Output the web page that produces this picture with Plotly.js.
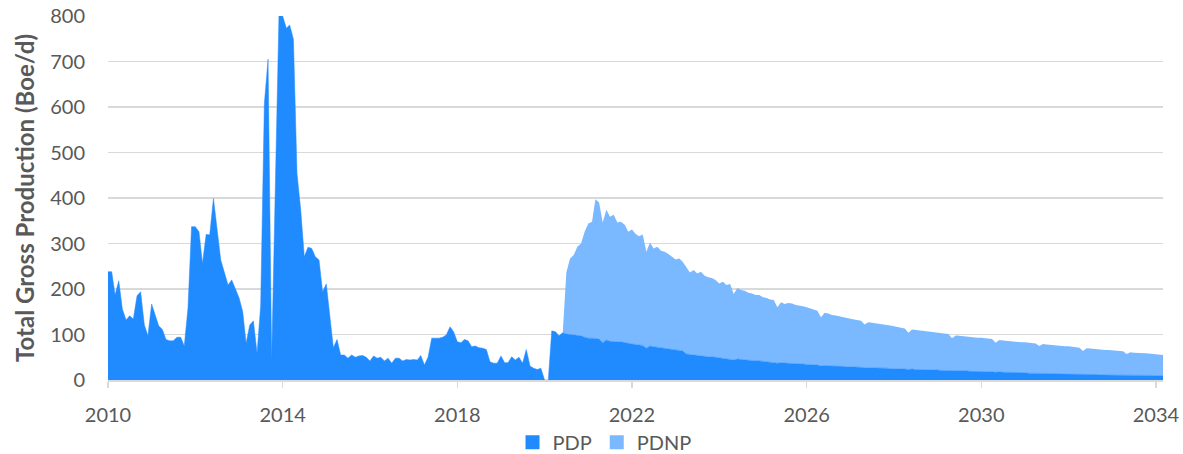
<!DOCTYPE html>
<html>
<head>
<meta charset="utf-8">
<script src="https://cdn.plot.ly/plotly-3.0.1.min.js"></script>
<style>html,body{margin:0;padding:0;background:#fff;}#chart{width:1183px;height:454px;}</style>
</head>
<body>
<div id="chart"></div>
<script>
// Monthly series, first month = January 2010
const startYear = 2010;
const startMonth = 1;

// PDP (Boe/d), one value per month from Jan 2010
const pdp = [
  238,238,187,218,156,132,141,134,185,194,121,97,
  167,139,119,111,89,86,86,94,94,75,158,337,
  337,326,256,320,319,399,337,264,236,209,220,202,
  181,150,81,121,130,59,163,608,705,44,430,800,
  800,773,780,749,454,374,271,292,289,271,264,194,
  211,132,71,89,55,55,48,55,50,53,54,50,
  42,53,48,50,42,48,37,48,48,42,45,44,
  45,44,54,33,50,92,92,92,94,99,117,106,
  84,82,89,86,73,75,71,70,67,40,37,37,
  53,38,38,51,44,50,37,67,31,26,23,26,
  0,0,108,106,97,104,101,100,99,98,97,94,
  92,92,91,90,82,88,85,84,84,84,82,81,
  79,78,77,76,70,75,73,72,71,70,69,68,
  67,66,64,57,56,54,53,53,52,51,51,50,
  49,48,47,46,44,46,45,44,43,43,42,42,
  41,40,40,39,37,38,37,37,36,36,36,35,
  34,34,33,33,31,32,31,31,30,30,30,29,
  29,29,28,28,27,27,27,26,26,26,26,25,
  25,25,24,24,23,24,23,23,23,22,22,22,
  22,21,21,21,20,21,20,20,20,19,19,19,
  19,18,18,18,17,18,17,17,17,16,16,16,
  16,15,15,15,14,15,14,14,14,14,13,13,
  13,13,13,12,12,12,12,12,12,11,11,11,
  11,11,11,11,10,10,10,10,10,10,10,10,
  9,9,9
];

// PDNP (Boe/d), one value per month starting at month index 125 (June 2020)
const pdnpStartIndex = 125;
const pdnp = [
  0,135,167,176,195,203,232,252,256,306,300,
  264,286,274,279,262,264,259,245,252,243,239,244,
  212,227,216,221,213,212,208,203,198,201,196,191,
  180,188,181,185,177,175,173,170,163,168,162,165,
  145,156,153,152,149,147,145,145,141,140,137,137,
  123,133,130,132,132,129,128,127,126,123,122,119,
  107,116,115,112,112,110,108,107,105,104,104,102,
  95,100,99,99,98,96,95,95,93,92,91,89,
  81,87,87,86,85,85,84,83,82,82,81,80,
  72,77,77,76,76,76,75,74,74,74,73,72,
  65,70,70,69,69,69,68,67,67,67,66,65,
  61,64,64,63,63,62,62,61,61,60,59,59,
  52,58,57,56,56,56,55,55,54,53,52,52,
  47,51,50,50,49,49,48,47,48,47,46
];

const yTicks = [0,100,200,300,400,500,600,700,800];
const xTickYears = [2010,2014,2018,2022,2026,2030,2034];

function monthDate(i){
  const y = startYear + Math.floor((startMonth - 1 + i) / 12);
  const m = ((startMonth - 1 + i) % 12) + 1;
  return y + '-' + String(m).padStart(2,'0') + '-01';
}
const months = pdp.map((_, i) => monthDate(i));
const monthsPdnp = pdnp.map((_, i) => monthDate(i + pdnpStartIndex));

const cPDP = '#1F8BFF';
const cPDNP = '#7AB8FF';
const gray = '#595959';
const font = 'Lato, "Open Sans", "Liberation Sans", sans-serif';

const traces = [
  {x: months, y: pdp, type: 'scatter', mode: 'lines', stackgroup: 'prod', stackgaps: 'infer zero',
   line: {color: cPDP, width: 0.5}, fillcolor: cPDP, name: 'PDP', showlegend: false, hoverinfo: 'skip'},
  {x: monthsPdnp, y: pdnp, type: 'scatter', mode: 'lines', stackgroup: 'prod',
   line: {color: cPDNP, width: 0}, fillcolor: cPDNP, name: 'PDNP', showlegend: false, hoverinfo: 'skip'},
  {x: [null], y: [null], type: 'scatter', mode: 'markers', name: 'PDP',
   marker: {symbol: 'square', size: 14, color: cPDP}},
  {x: [null], y: [null], type: 'scatter', mode: 'markers', name: 'PDNP',
   marker: {symbol: 'square', size: 14, color: cPDNP}}
];

const layout = {
  width: 1183, height: 454,
  margin: {l: 108, r: 20, t: 16, b: 74, autoexpand: false},
  paper_bgcolor: '#ffffff', plot_bgcolor: '#ffffff',
  font: {family: font, color: gray, size: 20},
  showlegend: true,
  legend: {orientation: 'h', xref: 'container', yref: 'container',
           x: 0.511, xanchor: 'center', y: 0.026, yanchor: 'middle',
           font: {family: font, size: 20, color: gray}, itemwidth: 30, traceorder: 'normal',
           bgcolor: 'rgba(0,0,0,0)'},
  xaxis: {
    type: 'date',
    range: ['2010-01-01', '2034-03-01'],
    tickvals: xTickYears.map(y => y + '-01-01'),
    ticktext: xTickYears.map(String),
    showgrid: false, zeroline: false,
    showline: true, linecolor: '#d9d9d9', linewidth: 1.5,
    ticks: 'outside', ticklen: 6, tickwidth: 1.5, tickcolor: '#d9d9d9',
    tickfont: {family: font, size: 20, color: gray},
    ticklabelstandoff: 10,
    automargin: false,
    fixedrange: true
  },
  yaxis: {
    range: [0, 800],
    tickvals: yTicks,
    showgrid: true, gridcolor: '#d9d9d9', gridwidth: 1.5,
    zeroline: false, showline: false, ticks: '',
    tickfont: {family: font, size: 20, color: gray},
    ticklabelstandoff: 22,
    automargin: false,
    title: {text: '<b>Total Gross Production (Boe/d)</b>', font: {family: font, size: 24, color: gray}, standoff: 8},
    fixedrange: true
  }
};

Plotly.newPlot('chart', traces, layout, {displayModeBar: false, staticPlot: true});
</script>
</body>
</html>
